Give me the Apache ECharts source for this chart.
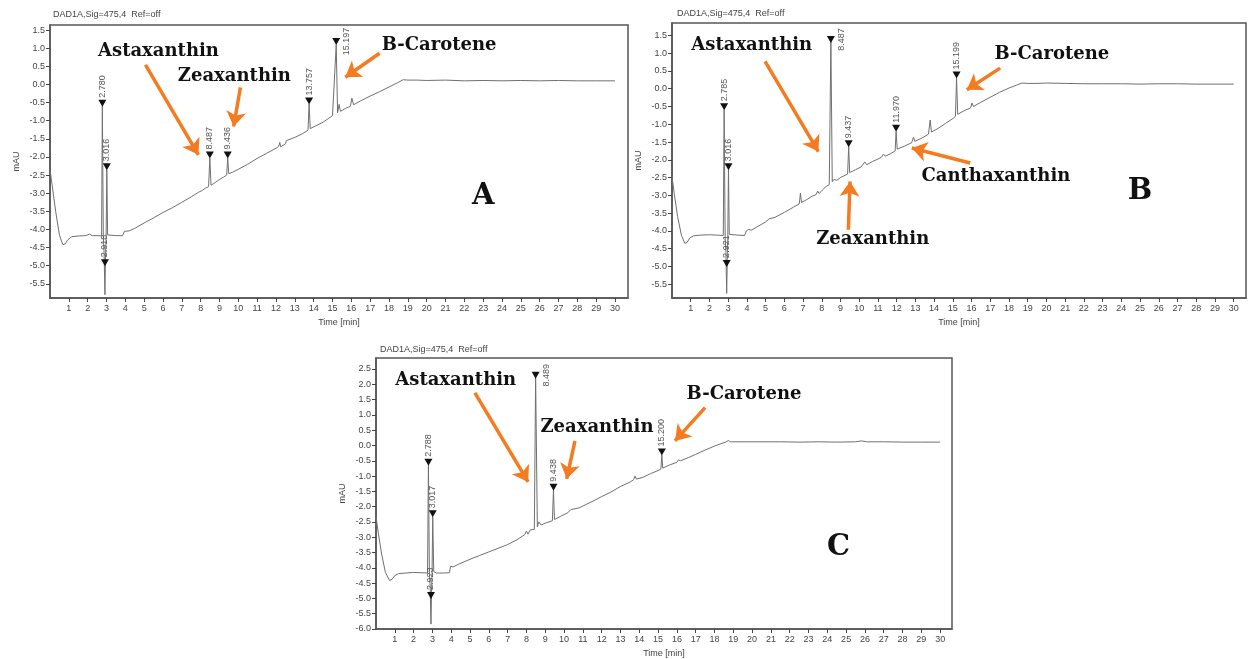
<!DOCTYPE html>
<html>
<head>
<meta charset="utf-8">
<script src="https://cdn.jsdelivr.net/npm/echarts@6/dist/echarts.min.js"></script>
<style>
  html, body { margin: 0; padding: 0; background: #ffffff; }
  #chart { width: 1248px; height: 659px; }
</style>
</head>
<body>
<div id="chart"></div>
<script>
// ---- Chromatogram data (time in min, signal in mAU) ----
const signalTitle = 'DAD1A,Sig=475,4  Ref=off';

const timeTicks = [1,2,3,4,5,6,7,8,9,10,11,12,13,14,15,16,17,18,19,20,21,22,23,24,25,26,27,28,29,30];
const mauTicksAB = [-5.5,-5.0,-4.5,-4.0,-3.5,-3.0,-2.5,-2.0,-1.5,-1.0,-0.5,0.0,0.5,1.0,1.5];
const mauTicksC = [-6.0,-5.5,-5.0,-4.5,-4.0,-3.5,-3.0,-2.5,-2.0,-1.5,-1.0,-0.5,0.0,0.5,1.0,1.5,2.0,2.5];

// Sample A
const traceA = [
  [0.00,-2.35],[0.12,-2.80],[0.30,-3.50],[0.50,-4.15],[0.68,-4.42],[0.80,-4.40],[0.95,-4.28],[1.15,-4.20],
  [1.50,-4.18],[1.90,-4.17],[2.10,-4.13],[2.25,-4.17],[2.60,-4.17],[2.74,-4.18],[2.780,-0.60],[2.83,-4.20],
  [2.87,-4.60],[2.918,-5.80],[2.95,-4.70],[2.98,-4.25],[3.016,-2.35],[3.06,-4.15],[3.15,-4.19],[3.50,-4.17],
  [3.85,-4.17],[3.95,-4.05],[4.05,-4.00],[4.20,-4.04],[4.50,-3.97],[5.00,-3.82],[5.50,-3.68],[6.00,-3.53],
  [6.50,-3.40],[7.00,-3.25],[7.50,-3.10],[7.90,-2.97],[8.10,-2.92],[8.25,-2.86],[8.30,-2.90],[8.42,-2.82],
  [8.487,-2.03],[8.55,-2.78],[8.70,-2.73],[9.00,-2.62],[9.20,-2.56],[9.38,-2.50],[9.436,-2.03],[9.49,-2.46],
  [9.70,-2.42],[10.00,-2.34],[10.50,-2.20],[11.00,-2.04],[11.50,-1.90],[12.00,-1.76],[12.15,-1.70],[12.20,-1.60],
  [12.25,-1.72],[12.50,-1.64],[12.55,-1.55],[12.65,-1.60],[13.00,-1.46],[13.40,-1.36],[13.70,-1.26],[13.757,-0.54],
  [13.82,-1.22],[14.00,-1.17],[14.50,-1.04],[15.00,-0.86],[15.10,-0.84],[15.197,1.10],[15.27,-0.78],[15.35,-0.55],
  [15.42,-0.74],[15.70,-0.66],[15.95,-0.60],[16.03,-0.38],[16.12,-0.56],[16.50,-0.45],[17.00,-0.32],[17.50,-0.20],
  [18.00,-0.07],[18.50,0.06],[18.75,0.13],[19.00,0.12],[19.50,0.12],[20.00,0.11],[21.00,0.12],[22.00,0.10],
  [23.00,0.11],[24.00,0.10],[25.00,0.11],[26.00,0.10],[27.00,0.11],[28.00,0.10],[29.00,0.10],[30.00,0.10]
];
const peakTimesA = [2.780, 2.918, 3.016, 8.487, 9.436, 13.757, 15.197];
const peakMarksA = [-0.60, -5.00, -2.35, -2.03, -2.03, -0.54, 1.10];

// Sample B
const traceB = [
  [0.00,-2.47],[0.12,-2.95],[0.30,-3.60],[0.50,-4.12],[0.68,-4.35],[0.80,-4.33],[0.95,-4.20],[1.15,-4.14],
  [1.50,-4.12],[2.00,-4.11],[2.40,-4.12],[2.74,-4.13],[2.785,-0.59],[2.84,-4.20],[2.88,-4.60],[2.921,-5.76],
  [2.96,-4.60],[2.98,-4.20],[3.016,-2.28],[3.06,-4.10],[3.15,-4.13],[3.50,-4.12],[3.88,-4.13],[3.97,-4.00],
  [4.10,-3.96],[4.25,-3.98],[4.50,-3.90],[5.00,-3.75],[5.20,-3.66],[5.30,-3.70],[5.50,-3.62],[6.00,-3.48],
  [6.50,-3.33],[6.80,-3.24],[6.86,-2.94],[6.92,-3.20],[7.20,-3.12],[7.50,-3.02],[7.70,-2.98],[7.78,-2.88],
  [7.85,-2.95],[8.10,-2.82],[8.20,-2.76],[8.28,-2.80],[8.40,-2.70],[8.487,1.33],[8.56,-2.62],[8.65,-2.55],
  [8.80,-2.58],[9.00,-2.50],[9.38,-2.40],[9.437,-1.63],[9.49,-2.36],[9.80,-2.28],[10.10,-2.20],[10.30,-2.06],
  [10.40,-2.14],[10.70,-2.05],[11.00,-1.98],[11.20,-1.92],[11.30,-1.84],[11.40,-1.90],[11.70,-1.82],[11.92,-1.75],
  [11.970,-1.20],[12.03,-1.70],[12.40,-1.62],[12.80,-1.52],[12.90,-1.36],[12.97,-1.48],[13.30,-1.40],[13.70,-1.28],
  [13.79,-0.88],[13.86,-1.22],[14.20,-1.12],[14.60,-0.98],[15.00,-0.84],[15.14,-0.78],[15.199,0.30],[15.26,-0.72],
  [15.60,-0.62],[15.95,-0.54],[16.02,-0.40],[16.10,-0.50],[16.50,-0.38],[17.00,-0.24],[17.50,-0.10],[18.00,0.02],
  [18.40,0.10],[18.69,0.16],[19.00,0.15],[19.50,0.15],[20.00,0.16],[21.00,0.15],[22.00,0.14],[23.00,0.14],
  [24.00,0.14],[25.00,0.13],[26.00,0.14],[27.00,0.14],[28.00,0.13],[29.00,0.13],[30.00,0.13]
];
const peakTimesB = [2.785, 2.921, 3.016, 8.487, 9.437, 11.970, 15.199];
const peakMarksB = [-0.59, -5.00, -2.28, 1.30, -1.63, -1.20, 0.30];

// Sample C
const traceC = [
  [0.00,-2.33],[0.12,-2.85],[0.30,-3.55],[0.50,-4.15],[0.72,-4.41],[0.85,-4.38],[1.00,-4.25],[1.20,-4.19],
  [1.60,-4.17],[2.00,-4.15],[2.40,-4.16],[2.74,-4.17],[2.788,-0.65],[2.84,-4.20],[2.88,-4.60],[2.923,-5.84],
  [2.96,-4.60],[2.98,-4.20],[3.017,-2.33],[3.07,-4.12],[3.20,-4.17],[3.60,-4.17],[3.90,-4.16],[3.97,-3.95],
  [4.10,-3.97],[4.40,-3.88],[5.00,-3.72],[5.50,-3.60],[6.00,-3.48],[6.50,-3.36],[7.00,-3.24],[7.50,-3.08],
  [7.90,-2.92],[8.00,-2.80],[8.08,-2.90],[8.20,-2.76],[8.30,-2.72],[8.42,-2.74],[8.489,2.20],[8.58,-2.66],
  [8.66,-2.50],[8.72,-2.44],[8.78,-2.60],[9.00,-2.54],[9.38,-2.46],[9.438,-1.46],[9.49,-2.42],[9.80,-2.32],
  [10.20,-2.20],[10.35,-2.10],[10.45,-2.16],[10.80,-2.04],[11.20,-1.92],[11.60,-1.80],[12.00,-1.67],[12.50,-1.52],
  [13.00,-1.34],[13.50,-1.20],[13.70,-1.12],[13.77,-1.00],[13.85,-1.10],[14.20,-1.04],[14.60,-0.92],[15.00,-0.82],
  [15.15,-0.77],[15.200,-0.31],[15.25,-0.74],[15.60,-0.64],[16.00,-0.55],[16.08,-0.47],[16.20,-0.50],[16.60,-0.40],
  [17.00,-0.29],[17.50,-0.15],[18.00,-0.02],[18.40,0.07],[18.60,0.11],[18.74,0.16],[18.85,0.12],[19.50,0.12],
  [20.50,0.12],[21.50,0.12],[22.50,0.11],[23.50,0.12],[24.50,0.11],[25.50,0.12],[25.80,0.15],[26.10,0.12],
  [27.00,0.12],[28.00,0.11],[29.00,0.11],[30.00,0.11]
];
const peakTimesC = [2.788, 2.923, 3.017, 8.489, 9.438, 15.200];
const peakMarksC = [-0.65, -5.00, -2.33, 2.20, -1.46, -0.31];

// Compound names used in the call-outs
const compoundNames = ['Astaxanthin', 'Zeaxanthin', 'B-Carotene', 'Canthaxanthin'];

// ---- Layout of the three panels and their call-outs (axis units) ----
const panels = [
  {
    letter: 'A', trace: traceA, times: peakTimesA, marks: peakMarksA,
    grid: { left: 50, top: 25, width: 578, height: 273 },
    xMax: 30.69, yMin: -5.89, yMax: 1.64, yTicks: mauTicksAB, titleAt: [48, 5],
    notes: [[0, 5.76, 0.92], [1, 9.79, 0.23], [2, 20.66, 1.07]],
    arrows: [[5.07, 0.54, 7.88, -1.94], [10.11, -0.08, 9.75, -1.16], [17.5, 0.86, 15.68, 0.20]],
    letterAt: [23.0, -3.1]
  },
  {
    letter: 'B', trace: traceB, times: peakTimesB, marks: peakMarksB,
    grid: { left: 672, top: 23, width: 574, height: 275 },
    xMax: 30.66, yMin: -5.89, yMax: 1.85, yTicks: mauTicksAB, titleAt: [672, 4],
    notes: [[0, 4.26, 1.21], [1, 10.72, -4.25], [3, 17.3, -2.47], [2, 20.29, 0.98]],
    arrows: [[4.97, 0.77, 7.82, -1.77], [9.42, -3.97, 9.51, -2.61], [15.93, -2.09, 12.81, -1.67], [17.53, 0.58, 15.75, -0.03]],
    letterAt: [25.0, -2.9]
  },
  {
    letter: 'C', trace: traceC, times: peakTimesC, marks: peakMarksC,
    grid: { left: 376, top: 358, width: 576, height: 274 },
    xMax: 30.63, yMin: -6.0, yMax: 2.86, yTicks: mauTicksC, titleAt: [375, 340],
    notes: [[0, 4.24, 2.12], [1, 11.75, 0.59], [2, 19.57, 1.67]],
    arrows: [[5.26, 1.72, 8.09, -1.19], [10.58, 0.15, 10.14, -1.09], [17.5, 1.24, 15.9, 0.15]],
    letterAt: [24.6, -3.35]
  }
];

const axisFont = 'Liberation Sans, Arial, sans-serif';
const noteFont = 'DejaVu Serif, serif';
const arrowColor = '#F47B20';

const grids = [], xAxes = [], yAxes = [], series = [], titles = [];

panels.forEach((p, i) => {
  grids.push(Object.assign({ show: true, borderColor: '#555', borderWidth: 1.5, backgroundColor: '#fff' }, p.grid));

  titles.push({
    text: signalTitle, left: p.titleAt[0], top: p.titleAt[1],
    textStyle: { fontFamily: axisFont, fontSize: 9, fontWeight: 'normal', color: '#444' }
  });

  xAxes.push({
    type: 'value', gridIndex: i, min: 0, max: p.xMax,
    name: 'Time [min]', nameLocation: 'middle', nameGap: 20,
    nameTextStyle: { fontFamily: axisFont, fontSize: 9, color: '#444' },
    axisLine: { show: true, onZero: false, lineStyle: { color: '#555', width: 1.5 } },
    axisTick: { show: true, length: 4, customValues: timeTicks, lineStyle: { color: '#444' } },
    axisLabel: { show: true, customValues: timeTicks, margin: 6, fontFamily: axisFont, fontSize: 9, color: '#444',
      formatter: v => String(Math.round(v)) },
    splitLine: { show: false }
  });

  yAxes.push({
    type: 'value', gridIndex: i, min: p.yMin, max: p.yMax,
    name: 'mAU', nameLocation: 'middle', nameGap: 29, nameRotate: 90,
    nameTextStyle: { fontFamily: axisFont, fontSize: 9, color: '#444' },
    axisLine: { show: true, onZero: false, lineStyle: { color: '#555', width: 1.5 } },
    axisTick: { show: true, length: 4, customValues: p.yTicks, lineStyle: { color: '#444' } },
    axisLabel: { show: true, customValues: p.yTicks, margin: 5, fontFamily: axisFont, fontSize: 9, color: '#444',
      formatter: v => v.toFixed(1) },
    splitLine: { show: false }
  });

  // Peak markers: downward triangle on the apex with the retention time written vertically
  const peakMarkers = p.times.map((t, k) => {
    const nearTop = p.yMax - p.marks[k] < 0.9;
    return {
      coord: [t, p.marks[k]],
      symbol: 'triangle', symbolRotate: 180, symbolSize: [8, 7], symbolOffset: [0, -3],
      itemStyle: { color: '#111' },
      label: {
        show: true, formatter: t.toFixed(3), rotate: 90,
        position: nearTop ? 'right' : 'top',
        align: nearTop ? 'center' : 'left',
        verticalAlign: nearTop ? 'top' : 'middle',
        distance: 2, fontFamily: axisFont, fontSize: 9, color: '#555'
      }
    };
  });

  const noteMarkers = p.notes.map(n => ({
    coord: [n[1], n[2]], symbol: 'rect', symbolSize: 1, itemStyle: { color: 'rgba(0,0,0,0)' },
    label: { show: true, position: 'inside', formatter: compoundNames[n[0]],
      fontFamily: noteFont, fontWeight: 'bold', fontSize: 18, color: '#111' }
  }));

  const letterMarker = {
    coord: p.letterAt, symbol: 'rect', symbolSize: 1, itemStyle: { color: 'rgba(0,0,0,0)' },
    label: { show: true, position: 'inside', formatter: p.letter,
      fontFamily: noteFont, fontWeight: 'bold', fontSize: 29, color: '#111' }
  };

  series.push({
    type: 'line', xAxisIndex: i, yAxisIndex: i, data: p.trace,
    showSymbol: false, symbol: 'none', smooth: false,
    lineStyle: { color: '#707070', width: 1 },
    silent: true, animation: false,
    markPoint: {
      silent: true, animation: false,
      data: peakMarkers.concat(noteMarkers, [letterMarker])
    },
    markLine: {
      silent: true, animation: false,
      symbol: ['none', 'arrow'], symbolSize: 15,
      lineStyle: { color: arrowColor, width: 3.5, type: 'solid', opacity: 1 },
      itemStyle: { color: arrowColor },
      label: { show: false },
      emphasis: { disabled: true },
      data: p.arrows.map(a => [{ coord: [a[0], a[1]] }, { coord: [a[2], a[3]] }])
    }
  });
});

const chart = echarts.init(document.getElementById('chart'), null, { renderer: 'canvas' });
chart.setOption({
  animation: false,
  backgroundColor: '#ffffff',
  title: titles,
  grid: grids,
  xAxis: xAxes,
  yAxis: yAxes,
  series: series
});
</script>
</body>
</html>
